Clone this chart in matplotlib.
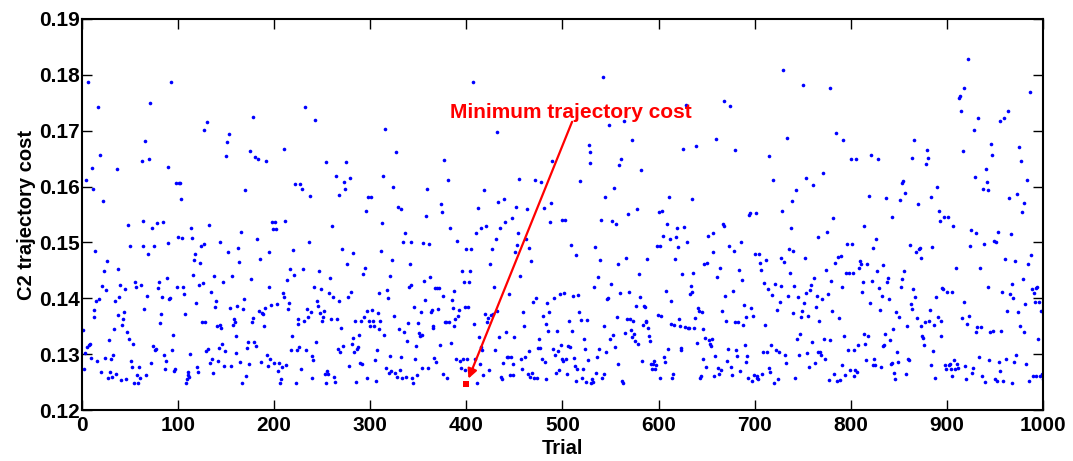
import numpy as np
import matplotlib
matplotlib.use('Agg')
import matplotlib.pyplot as plt

# C2 trajectory cost per trial, in units of 1e-4, one list per block of 100 trials
cost_001_100 = [1343, 1273, 1302, 1611, 1312, 1788, 1316, 1318, 1293, 1633, 1595, 1379, 1367, 1484, 1395, 1287, 1743,
                1399, 1657, 1268, 1422, 1574, 1448, 1294, 1414, 1466, 1257, 1325, 1268, 1291, 1259, 1299, 1345, 1396,
                1265, 1631, 1370, 1452, 1402, 1423, 1253, 1353, 1363, 1376, 1417, 1256, 1340, 1532, 1328, 1494, 1287,
                1277, 1318, 1249, 1429, 1420, 1262, 1249, 1277, 1258, 1423, 1646, 1538, 1494, 1381, 1682, 1263, 1404,
                1480, 1649, 1749, 1284, 1526, 1315, 1494, 1308, 1310, 1534, 1418, 1430, 1356, 1371, 1403, 1537, 1298,
                1273, 1287, 1436, 1499, 1635, 1399, 1401, 1788, 1307, 1334, 1269, 1273, 1607, 1420, 1509]
cost_101_200 = [1606, 1606, 1577, 1508, 1420, 1408, 1372, 1249, 1256, 1268, 1262, 1259, 1300, 1525, 1508, 1442, 1468,
                1479, 1391, 1277, 1268, 1424, 1464, 1494, 1358, 1427, 1498, 1701, 1358, 1305, 1716, 1309, 1531, 1285,
                1412, 1292, 1267, 1440, 1385, 1395, 1351, 1288, 1311, 1353, 1501, 1347, 1318, 1430, 1279, 1305, 1655,
                1680, 1482, 1695, 1382, 1279, 1440, 1353, 1363, 1357, 1302, 1332, 1387, 1490, 1465, 1286, 1519, 1249,
                1381, 1399, 1594, 1261, 1311, 1321, 1283, 1664, 1434, 1357, 1725, 1365, 1321, 1653, 1314, 1507, 1650,
                1378, 1470, 1286, 1374, 1372, 1351, 1382, 1646, 1299, 1279, 1482, 1420, 1292, 1388, 1537, 1524, 1285]
cost_201_300 = [1537, 1524, 1389, 1270, 1285, 1249, 1256, 1277, 1410, 1403, 1668, 1538, 1280, 1432, 1381, 1391, 1452,
                1307, 1333, 1487, 1441, 1604, 1249, 1307, 1354, 1363, 1313, 1604, 1273, 1595, 1452, 1359, 1742, 1307,
                1381, 1367, 1501, 1583, 1376, 1297, 1258, 1289, 1421, 1719, 1322, 1396, 1387, 1449, 1374, 1416, 1360,
                1366, 1378, 1265, 1644, 1249, 1270, 1265, 1410, 1437, 1363, 1530, 1403, 1259, 1250, 1619, 1363, 1310,
                1395, 1585, 1303, 1346, 1489, 1314, 1609, 1596, 1644, 1462, 1403, 1279, 1616, 1412, 1319, 1329, 1481,
                1303, 1359, 1250, 1310, 1313, 1334, 1285, 1359, 1283, 1443, 1367, 1454, 1557, 1378, 1258, 1581, 1359,
                1350]
cost_301_400 = [1582, 1379, 1360, 1350, 1289, 1252, 1308, 1374, 1345, 1409, 1359, 1484, 1534, 1619, 1335, 1703, 1276,
                1414, 1400, 1267, 1297, 1440, 1270, 1468, 1600, 1368, 1267, 1662, 1259, 1563, 1345, 1271, 1560, 1295,
                1257, 1501, 1340, 1517, 1259, 1323, 1355, 1420, 1461, 1501, 1424, 1257, 1249, 1385, 1292, 1314, 1262,
                1355, 1337, 1333, 1376, 1334, 1276, 1499, 1431, 1397, 1548, 1595, 1276, 1498, 1439, 1376, 1379, 1351,
                1346, 1293, 1419, 1286, 1419, 1381, 1419, 1317, 1568, 1554, 1265, 1404, 1647, 1357, 1358, 1258, 1612,
                1357, 1526, 1320, 1397, 1383, 1413, 1350, 1363, 1292, 1503, 1368, 1379, 1287, 1276, 1449, 1292, 1430,
                1271, 1385, 1488]
cost_401_500 = [1292, 1385, 1430, 1449, 1488, 1274, 1788, 1354, 1291, 1516, 1249, 1561, 1330, 1283, 1526, 1313, 1307,
                1262, 1593, 1371, 1529, 1358, 1364, 1271, 1462, 1370, 1488, 1372, 1420, 1307, 1506, 1698, 1378, 1572,
                1330, 1525, 1259, 1255, 1285, 1578, 1536, 1340, 1295, 1295, 1407, 1262, 1295, 1543, 1262, 1282, 1331,
                1483, 1563, 1495, 1516, 1613, 1440, 1292, 1273, 1375, 1351, 1295, 1507, 1559, 1265, 1305, 1490, 1259,
                1467, 1267, 1393, 1257, 1612, 1401, 1257, 1311, 1327, 1311, 1609, 1291, 1368, 1562, 1286, 1255, 1354,
                1391, 1342, 1375, 1537, 1570, 1645, 1310, 1401, 1299, 1267, 1342, 1305, 1271, 1408, 1316, 1540, 1292]
cost_501_600 = [1287, 1409, 1541, 1292, 1264, 1314, 1360, 1313, 1495, 1341, 1404, 1294, 1279, 1252, 1478, 1274, 1406,
                1375, 1610, 1362, 1257, 1273, 1327, 1310, 1250, 1362, 1289, 1674, 1662, 1643, 1249, 1255, 1250, 1421,
                1492, 1267, 1295, 1439, 1310, 1468, 1540, 1257, 1797, 1265, 1351, 1582, 1303, 1399, 1400, 1710, 1327,
                1426, 1538, 1334, 1597, 1312, 1533, 1366, 1461, 1282, 1638, 1410, 1649, 1252, 1249, 1717, 1338, 1473,
                1363, 1551, 1412, 1363, 1343, 1330, 1683, 1360, 1336, 1323, 1387, 1559, 1319, 1443, 1402, 1629, 1287,
                1353, 1386, 1385, 1358, 1360, 1471, 1346, 1333, 1324, 1282, 1274, 1283, 1287, 1274, 1280, 1494, 1370,
                1555]
cost_601_700 = [1258, 1494, 1368, 1557, 1512, 1295, 1286, 1413, 1533, 1310, 1582, 1507, 1396, 1354, 1258, 1264, 1353,
                1470, 1510, 1526, 1492, 1363, 1350, 1307, 1311, 1443, 1668, 1528, 1348, 1746, 1501, 1347, 1346, 1407,
                1422, 1578, 1412, 1446, 1347, 1364, 1673, 1320, 1382, 1378, 1258, 1261, 1375, 1292, 1345, 1462, 1329,
                1277, 1464, 1511, 1325, 1318, 1315, 1327, 1516, 1483, 1261, 1296, 1686, 1439, 1276, 1264, 1455, 1271,
                1378, 1533, 1530, 1753, 1404, 1360, 1287, 1310, 1494, 1745, 1277, 1262, 1413, 1485, 1357, 1666, 1307,
                1297, 1358, 1450, 1270, 1501, 1432, 1352, 1388, 1316, 1286, 1367, 1297, 1257, 1550, 1553, 1383, 1252,
                1368, 1262, 1479]
cost_701_800 = [1553, 1257, 1261, 1255, 1479, 1464, 1450, 1265, 1304, 1428, 1353, 1469, 1304, 1416, 1654, 1276, 1268,
                1317, 1406, 1612, 1249, 1425, 1307, 1379, 1255, 1303, 1393, 1473, 1422, 1556, 1809, 1465, 1298, 1285,
                1687, 1405, 1489, 1445, 1526, 1575, 1373, 1485, 1422, 1257, 1594, 1327, 1403, 1298, 1336, 1366, 1378,
                1782, 1391, 1472, 1410, 1615, 1302, 1369, 1277, 1415, 1424, 1322, 1602, 1437, 1285, 1384, 1404, 1510,
                1304, 1359, 1303, 1299, 1399, 1625, 1327, 1292, 1450, 1518, 1408, 1254, 1325, 1777, 1431, 1378, 1544,
                1265, 1463, 1696, 1252, 1474, 1364, 1254, 1476, 1421, 1280, 1683, 1332, 1262, 1445, 1497, 1307, 1446,
                1271, 1649]
cost_801_900 = [1497, 1446, 1261, 1307, 1271, 1649, 1268, 1317, 1455, 1467, 1461, 1412, 1430, 1336, 1530, 1319, 1289,
                1461, 1333, 1584, 1392, 1656, 1431, 1490, 1280, 1292, 1280, 1506, 1449, 1649, 1419, 1379, 1277, 1405,
                1460, 1314, 1316, 1336, 1580, 1430, 1437, 1398, 1325, 1282, 1545, 1285, 1345, 1267, 1256, 1375, 1304,
                1286, 1366, 1576, 1420, 1434, 1606, 1610, 1448, 1589, 1264, 1350, 1292, 1289, 1495, 1390, 1652, 1381,
                1416, 1683, 1402, 1483, 1365, 1569, 1489, 1490, 1473, 1351, 1333, 1329, 1316, 1358, 1640, 1666, 1652,
                1360, 1379, 1581, 1280, 1491, 1305, 1353, 1257, 1403, 1600, 1367, 1556, 1539, 1332, 1359, 1418, 1416,
                1546, 1280, 1274, 1412]
cost_901_1000 = [1546, 1280, 1283, 1274, 1261, 1412, 1530, 1289, 1274, 1455, 1283, 1276, 1759, 1762, 1736, 1364, 1663,
                 1393, 1777, 1279, 1255, 1354, 1829, 1368, 1494, 1522, 1267, 1276, 1702, 1618, 1340, 1517, 1348, 1722,
                 1295, 1455, 1349, 1261, 1595, 1498, 1250, 1632, 1609, 1421, 1593, 1289, 1340, 1677, 1656, 1342, 1503,
                 1255, 1501, 1252, 1518, 1286, 1270, 1717, 1342, 1412, 1252, 1722, 1470, 1292, 1377, 1735, 1580, 1408,
                 1515, 1426, 1249, 1401, 1286, 1467, 1298, 1586, 1376, 1670, 1351, 1645, 1554, 1434, 1340, 1571, 1390,
                 1283, 1612, 1462, 1252, 1770, 1477, 1416, 1261, 1409, 1393, 1418, 1261, 1421, 1328, 1393, 1261, 1378,
                 1265, 1255]

# lowest cost over all trials
min_trial = 400
min_cost = 0.1247

blocks = [cost_001_100, cost_101_200, cost_201_300, cost_301_400, cost_401_500,
          cost_501_600, cost_601_700, cost_701_800, cost_801_900, cost_901_1000]

plt.rcParams['font.family'] = ['Liberation Sans', 'DejaVu Sans']
plt.rcParams['font.weight'] = 'bold'

fig = plt.figure(figsize=(10.73, 4.61), dpi=100)
ax = fig.add_axes([0.0764, 0.1106, 0.8956, 0.8482])

for k, block in enumerate(blocks):
    vals = np.array(block) / 1e4
    trials = np.linspace(100 * k + 1, 100 * k + 100, len(vals))
    ax.plot(trials, vals, 'o', color='blue', markersize=2.6, markeredgewidth=0)

ax.plot([min_trial], [min_cost], 's', color='red', markersize=3.8, markeredgewidth=0)

# label with an arrow pointing down to the minimum
ax.text(509, 0.1733, 'Minimum trajectory cost', color='red', fontsize=15,
        fontweight='bold', ha='center', va='center')
ax.annotate('', xy=(min_trial, min_cost), xytext=(510, 0.1716),
            arrowprops=dict(arrowstyle='-|>', color='red', lw=1.6, mutation_scale=14,
                            shrinkA=0, shrinkB=4))

ax.set_xlim(0, 1000)
ax.set_ylim(0.12, 0.19)
ax.set_xticks(np.arange(0, 1001, 100))
ax.set_yticks(np.arange(0.12, 0.1901, 0.01))
ax.set_yticklabels(['0.12', '0.13', '0.14', '0.15', '0.16', '0.17', '0.18', '0.19'])
ax.tick_params(direction='in', length=7, width=1, top=True, right=True, labelsize=15)
ax.tick_params(axis='y', pad=1.5)
ax.tick_params(axis='x', pad=4)
for lbl in ax.get_xticklabels() + ax.get_yticklabels():
    lbl.set_fontweight('bold')
for sp in ax.spines.values():
    sp.set_linewidth(1.5)

ax.set_xlabel('Trial', fontsize=14.5, fontweight='bold', labelpad=3)
ax.set_ylabel('C2 trajectory cost', fontsize=14.5, fontweight='bold')
ax.yaxis.set_label_coords(-0.048, 0.5)

fig.savefig('out.png', dpi=100)
